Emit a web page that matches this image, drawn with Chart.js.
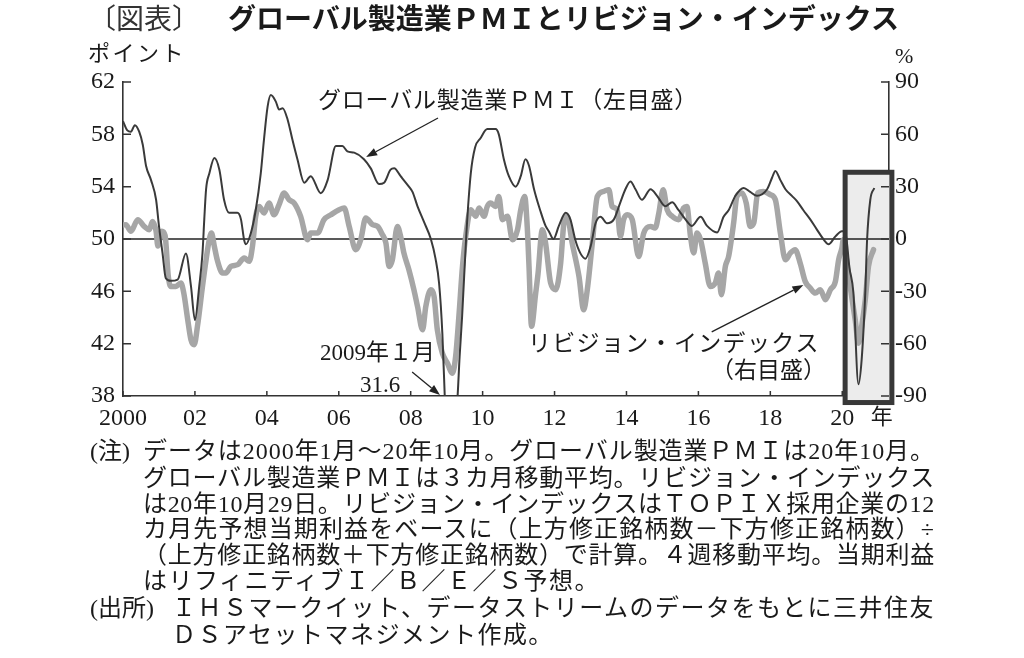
<!DOCTYPE html>
<html><head><meta charset="utf-8">
<script src="https://cdn.jsdelivr.net/npm/chart.js@4/dist/chart.umd.min.js"></script>
<style>
html,body{margin:0;padding:0;background:#fff;}
#wrap{position:relative;width:1024px;height:658px;overflow:hidden;background:#fff;}
#c{position:absolute;left:0;top:0;}
.t{position:absolute;white-space:nowrap;color:#1a1a1a;font-family:"Liberation Serif","Noto Sans CJK JP",serif;line-height:1;}
.n{font-size:24px;}
</style></head><body>
<div id="wrap">
<canvas id="c" width="1024" height="658"></canvas>
<div class="t" style="left:88px;top:3px;font-size:28px;font-family:'Noto Sans CJK JP';color:#333;">〔図表〕</div>
<div class="t" style="left:228px;top:3px;font-size:28px;font-family:'Noto Sans CJK JP';font-weight:700;">グローバル製造業ＰＭＩとリビジョン・インデックス</div>
<div class="t" style="left:88px;top:43px;font-size:22px;letter-spacing:2.5px;">ポイント</div>
<div class="t" style="left:895px;top:45px;font-size:22px;">%</div>
<div class="t n" style="left:90px;top:439px;">(注)</div>
<div class="t n fit" data-w="792" style="left:143px;top:439px;">データは2000年1月～20年10月。グローバル製造業ＰＭＩは20年10月。</div>
<div class="t n fit" data-w="792" style="left:143px;top:466px;">グローバル製造業ＰＭＩは３カ月移動平均。リビジョン・インデックス</div>
<div class="t n fit" data-w="792" style="left:143px;top:492px;">は20年10月29日。リビジョン・インデックスはＴＯＰＩＸ採用企業の12</div>
<div class="t n fit" data-w="792" style="left:143px;top:517px;">カ月先予想当期利益をベースに（上方修正銘柄数－下方修正銘柄数）÷</div>
<div class="t n fit" data-w="792" style="left:143px;top:543px;">（上方修正銘柄数＋下方修正銘柄数）で計算。４週移動平均。当期利益</div>
<div class="t n same" style="left:143px;top:569px;">はリフィニティブＩ／Ｂ／Ｅ／Ｓ予想。</div>
<div class="t n" style="left:90px;top:596px;">(出所)</div>
<div class="t n fit" data-w="763" style="left:172px;top:596px;">ＩＨＳマークイット、データストリームのデータをもとに三井住友</div>
<div class="t n same" style="left:172px;top:623px;">ＤＳアセットマネジメント作成。</div>
</div>
<script>
// ---- data ----
const pmiYears = [2000.00,2000.12,2000.22,2000.33,2000.45,2000.55,2000.64,2000.78,2000.92,2001.00,
2001.10,2001.19,2001.33,2001.52,2001.75,2001.89,2002.00,2002.12,2002.21,2002.26,
2002.31,2002.40,2002.54,2002.68,2002.81,2002.95,2003.18,2003.28,2003.37,2003.42,
2003.56,2003.69,2003.83,2003.92,2004.02,2004.11,2004.25,2004.34,2004.44,2004.58,
2004.71,2004.85,2005.04,2005.22,2005.50,2005.69,2005.92,2006.10,2006.24,2006.43,
2006.70,2006.89,2007.12,2007.26,2007.44,2007.54,2007.72,2007.95,2008.05,2008.19,
2008.37,2008.56,2008.69,2008.79,2008.88,2008.96,2009.04,2009.12,2009.21,2009.30,
2009.36,2009.43,2009.55,2009.67,2009.79,2009.94,2010.13,2010.36,2010.45,2010.59,
2010.73,2010.92,2011.06,2011.19,2011.29,2011.43,2011.60,2011.75,2011.84,2011.97,
2012.12,2012.31,2012.44,2012.58,2012.72,2012.86,2013.00,2013.14,2013.28,2013.46,
2013.65,2013.83,2013.97,2014.11,2014.25,2014.43,2014.67,2014.85,2015.08,2015.27,
2015.45,2015.64,2015.82,2016.06,2016.24,2016.52,2016.70,2016.84,2017.03,2017.26,
2017.44,2017.63,2017.91,2018.05,2018.14,2018.28,2018.42,2018.60,2018.74,2018.92,
2019.11,2019.30,2019.50,2019.62,2019.81,2019.99,2020.08,2020.20,2020.31,2020.45,
2020.54,2020.64,2020.69,2020.78,2020.89];
const pmiValues = [59.0,58.3,58.2,58.7,58.2,57.2,55.6,54.5,53.0,51.0,
48.9,47.0,46.8,46.9,48.9,46.4,43.8,46.4,48.9,51.5,
53.8,55.0,56.2,55.3,53.0,52.0,52.0,51.5,49.9,49.6,
50.5,52.2,55.0,57.6,60.1,61.0,60.5,59.9,60.0,59.1,
57.6,56.1,54.3,54.8,53.5,54.5,57.1,57.1,56.7,56.6,
56.1,55.4,54.2,54.3,55.3,55.4,54.8,54.0,53.6,52.5,
51.3,50.0,48.5,46.6,42.8,37.0,31.6,32.5,35.0,37.8,
41.0,44.1,50.5,55.0,57.0,57.7,58.4,58.4,58.0,56.1,
54.8,54.0,54.8,56.1,55.6,53.8,52.2,51.0,50.6,50.0,
51.0,52.0,51.5,49.9,48.9,48.5,49.4,51.2,51.7,51.2,
51.5,52.8,53.8,54.4,53.8,53.0,53.8,53.3,52.5,52.8,
52.2,51.5,51.0,51.7,51.0,50.5,51.7,52.2,53.3,53.9,
53.6,53.3,53.8,54.7,55.2,54.5,53.8,53.3,52.9,52.2,
51.5,50.7,49.9,49.6,50.2,50.6,50.6,47.8,45.9,38.9,
40.8,45.9,49.9,53.0,53.9];

const revYears = [2000.00,2000.08,2000.22,2000.41,2000.59,2000.73,2000.82,2000.92,2000.97,2001.08,
2001.17,2001.26,2001.33,2001.47,2001.61,2001.69,2001.80,2001.89,2001.98,2002.07,
2002.21,2002.31,2002.40,2002.46,2002.54,2002.62,2002.77,2002.86,2003.00,2003.19,
2003.37,2003.51,2003.60,2003.69,2003.79,2003.92,2004.06,2004.20,2004.34,2004.48,
2004.62,2004.76,2004.94,2005.13,2005.22,2005.41,2005.59,2005.78,2006.01,2006.15,
2006.29,2006.47,2006.61,2006.75,2006.94,2007.08,2007.20,2007.31,2007.40,2007.49,
2007.63,2007.72,2007.81,2007.95,2008.09,2008.19,2008.33,2008.42,2008.56,2008.65,
2008.74,2008.88,2009.02,2009.16,2009.25,2009.34,2009.44,2009.53,2009.67,2009.81,
2009.90,2010.04,2010.13,2010.22,2010.36,2010.45,2010.55,2010.69,2010.83,2010.97,
2011.06,2011.17,2011.24,2011.29,2011.36,2011.47,2011.54,2011.66,2011.75,2011.89,
2012.03,2012.17,2012.26,2012.35,2012.49,2012.68,2012.81,2012.91,2013.05,2013.19,
2013.37,2013.51,2013.60,2013.74,2013.83,2013.92,2014.02,2014.16,2014.34,2014.48,
2014.67,2014.80,2014.90,2015.02,2015.13,2015.27,2015.45,2015.59,2015.68,2015.78,
2015.87,2015.96,2016.06,2016.19,2016.33,2016.47,2016.56,2016.64,2016.75,2016.84,
2016.98,2017.07,2017.21,2017.33,2017.44,2017.54,2017.65,2017.81,2018.00,2018.14,
2018.28,2018.42,2018.56,2018.69,2018.83,2018.97,2019.11,2019.25,2019.39,2019.53,
2019.67,2019.81,2019.90,2019.99,2020.03,2020.12,2020.22,2020.36,2020.45,2020.54,
2020.64,2020.73,2020.87];
const revValues = [8.0,8.2,4.4,11.1,7.2,5.3,10.1,4.4,-4.0,4.5,
2.0,-21.5,-27.2,-27.2,-25.2,-31.0,-46.3,-57.8,-60.6,-50.1,
-27.2,-11.9,-0.4,3.4,-4.2,-11.9,-19.5,-19.5,-15.7,-14.7,
-10.9,-12.8,-4.2,13.0,18.7,14.9,20.6,13.9,19.7,26.4,
22.5,20.6,13.0,-0.4,3.4,3.4,11.1,13.9,16.8,17.8,
7.2,-6.1,-0.4,12.0,8.2,7.2,3.0,-2.3,-15.7,-11.9,
7.2,1.5,-8.0,-17.6,-29.1,-38.7,-52.0,-38.7,-29.1,-32.9,
-52.0,-65.4,-71.1,-76.9,-67.3,-44.4,-15.7,1.5,16.8,13.0,
17.8,13.0,18.7,20.6,18.7,24.4,11.1,13.0,-0.4,5.3,
16.8,24.4,7.2,-15.7,-50.0,-32.0,-20.0,5.3,-2.3,-25.2,
-29.1,-13.8,9.2,13.0,-2.3,-21.5,-40.6,-29.1,-2.3,24.4,
27.3,28.3,18.7,16.8,1.5,11.1,13.9,11.1,-10.0,3.4,
7.2,6.3,14.9,28.3,16.8,13.0,11.1,17.8,18.7,1.5,
-8.0,3.4,-0.4,-13.8,-27.2,-25.2,-19.5,-31.9,-15.7,-10.0,
9.2,24.4,26.4,20.6,7.2,9.2,26.4,27.3,25.4,22.5,
3.4,-11.9,-8.0,-6.1,-13.8,-24.3,-28.1,-31.0,-29.1,-34.8,
-29.1,-24.3,-11.9,-5.2,-0.4,-12.0,-27.2,-46.3,-59.7,-50.1,
-34.8,-15.7,-6.1];

const xTickYears  = [2000,2002,2004,2006,2008,2010,2012,2014,2016,2018,2020];
const xTickLabels = ['2000','02','04','06','08','10','12','14','16','18','20'];
const leftTicks   = [38,42,46,50,54,58,62];
const rightTicks  = [-90,-60,-30,0,30,60,90];
const refLine = 50;
const highlight = {x0:2020.08, x1:2021.38, y0:37.5, y1:55.1};

// annotations in data units (x: year, y: left scale)
const notesText = [
  {text:'グローバル製造業ＰＭＩ（左目盛）', x:2005.42, y:60.5, align:'left', w:380},
  {text:'2009年１月', x:2005.48, y:41.2, align:'left'},
  {text:'31.6', x:2006.59, y:38.8, align:'left'},
  {text:'リビジョン・インデックス', x:2011.26, y:41.9, align:'left', w:292},
  {text:'（右目盛）', x:2019.55, y:39.8, align:'right'}
];
const arrows = [
  {x0:2008.76, y0:59.25, x1:2006.76, y1:56.27},
  {x0:2008.04, y0:39.83, x1:2008.815, y1:38.07},
  {x0:2016.37, y0:42.9, x1:2018.92, y1:46.48}
];

const INK = '#1a1a1a';
const deco = {
  id:'deco',
  beforeDatasetsDraw(chart){
    const {ctx, chartArea:a, scales:{x, yL}} = chart;
    ctx.save();
    const hx0=x.getPixelForValue(highlight.x0), hx1=x.getPixelForValue(highlight.x1);
    const hy0=yL.getPixelForValue(highlight.y0), hy1=yL.getPixelForValue(highlight.y1);
    ctx.fillStyle='#ececec';
    ctx.fillRect(hx0,hy1,hx1-hx0,hy0-hy1);
    const y50=yL.getPixelForValue(refLine);
    ctx.strokeStyle='#222'; ctx.lineWidth=1.3;
    ctx.beginPath(); ctx.moveTo(a.left,y50); ctx.lineTo(a.right,y50); ctx.stroke();
    ctx.restore();
  },
  afterDatasetsDraw(chart){
    const {ctx, chartArea:a, scales:{x, yL, yR}} = chart;
    ctx.save();
    // highlight border
    const hx0=x.getPixelForValue(highlight.x0), hx1=x.getPixelForValue(highlight.x1);
    const hy0=yL.getPixelForValue(highlight.y0), hy1=yL.getPixelForValue(highlight.y1);
    ctx.strokeStyle='#383838'; ctx.lineWidth=5;
    ctx.strokeRect(hx0,hy1,hx1-hx0,hy0-hy1);
    // inward tick marks
    ctx.strokeStyle='#333'; ctx.lineWidth=1.5;
    ctx.beginPath();
    leftTicks.forEach(v=>{const p=yL.getPixelForValue(v); ctx.moveTo(a.left,p); ctx.lineTo(a.left+8,p);});
    rightTicks.forEach(v=>{const p=yR.getPixelForValue(v); ctx.moveTo(a.right,p); ctx.lineTo(a.right-8,p);});
    xTickYears.forEach(v=>{const p=x.getPixelForValue(v); ctx.moveTo(p,a.bottom); ctx.lineTo(p,a.bottom-5);});
    ctx.stroke();
    // "年" after last x label
    ctx.fillStyle=INK; ctx.textBaseline='middle'; ctx.textAlign='center';
    ctx.font='22px "Noto Sans CJK JP"';
    ctx.fillText('年', x.getPixelForValue(2021.1), a.bottom+20);
    // annotation texts
    ctx.font='23px "Liberation Serif", "Noto Sans CJK JP"';
    notesText.forEach(n=>{
      ctx.textAlign=n.align;
      ctx.letterSpacing='0px';
      if(n.w){const m=ctx.measureText(n.text).width; ctx.letterSpacing=((n.w-m)/[...n.text].length)+'px';}
      ctx.fillText(n.text, x.getPixelForValue(n.x), yL.getPixelForValue(n.y));
    });
    ctx.letterSpacing='0px';
    // arrows
    ctx.strokeStyle='#222'; ctx.fillStyle='#222'; ctx.lineWidth=1.3;
    arrows.forEach(r=>{
      const x0=x.getPixelForValue(r.x0), y0=yL.getPixelForValue(r.y0);
      const x1=x.getPixelForValue(r.x1), y1=yL.getPixelForValue(r.y1);
      const ang=Math.atan2(y1-y0,x1-x0), L=11, W=4;
      const bx=x1-L*Math.cos(ang), by=y1-L*Math.sin(ang);
      ctx.beginPath(); ctx.moveTo(x0,y0); ctx.lineTo(bx,by); ctx.stroke();
      ctx.beginPath(); ctx.moveTo(x1,y1);
      ctx.lineTo(bx+W*Math.sin(ang), by-W*Math.cos(ang));
      ctx.lineTo(bx-W*Math.sin(ang), by+W*Math.cos(ang));
      ctx.closePath(); ctx.fill();
    });
    ctx.restore();
  }
};

const tickFont = {family:'"Liberation Serif", serif', size:24};
const border = {display:true, color:'#333', width:1.6};
new Chart(document.getElementById('c'), {
  type:'line',
  data:{datasets:[
    {label:'グローバル製造業ＰＭＩ', data:pmiYears.map((v,i)=>({x:v,y:pmiValues[i]})), yAxisID:'yL',
     borderColor:'#3a3a3a', borderWidth:2, pointRadius:0, cubicInterpolationMode:'monotone', clip:0},
    {label:'リビジョン・インデックス', data:revYears.map((v,i)=>({x:v,y:revValues[i]})), yAxisID:'yR',
     borderColor:'#a6a6a6', borderWidth:5.5, pointRadius:0, cubicInterpolationMode:'monotone', clip:0, borderJoinStyle:'round', borderCapStyle:'round'}
  ]},
  options:{
    responsive:false, animation:false, devicePixelRatio:1,
    layout:{padding:{top:82,left:0,right:0,bottom:0}},
    plugins:{legend:{display:false}, tooltip:{enabled:false}},
    scales:{
      x:{type:'linear', min:2000, max:2021.3,
         afterBuildTicks:s=>{s.ticks=xTickYears.map(v=>({value:v}));},
         afterFit:s=>{s.height=262;},
         grid:{display:false, drawTicks:false}, border,
         ticks:{autoSkip:false, maxRotation:0, padding:8, color:INK, font:tickFont,
                callback:v=>xTickLabels[xTickYears.indexOf(v)]}},
      yL:{position:'left', min:38, max:62,
         afterBuildTicks:s=>{s.ticks=leftTicks.map(v=>({value:v}));},
         afterFit:s=>{s.width=123;},
         grid:{display:false, drawTicks:false}, border,
         ticks:{padding:8, color:INK, font:tickFont, callback:v=>String(v)}},
      yR:{position:'right', min:-90, max:90,
         afterBuildTicks:s=>{s.ticks=rightTicks.map(v=>({value:v}));},
         afterFit:s=>{s.width=135;},
         grid:{display:false, drawTicks:false}, border,
         ticks:{padding:6, color:INK, font:tickFont, callback:v=>String(v)}}
    }
  },
  plugins:[deco]
});

// justify note lines to their measured widths
let spacing = 0;
document.querySelectorAll('.fit').forEach(el=>{
  const w = el.getBoundingClientRect().width;
  const n = [...el.textContent].length;
  const ls = (parseFloat(el.dataset.w) - w) / n;
  el.style.letterSpacing = ls + 'px';
  spacing = ls;
});
document.querySelectorAll('.same').forEach(el=>{ el.style.letterSpacing = Math.max(spacing,0) + 'px'; });
</script>
</body></html>
